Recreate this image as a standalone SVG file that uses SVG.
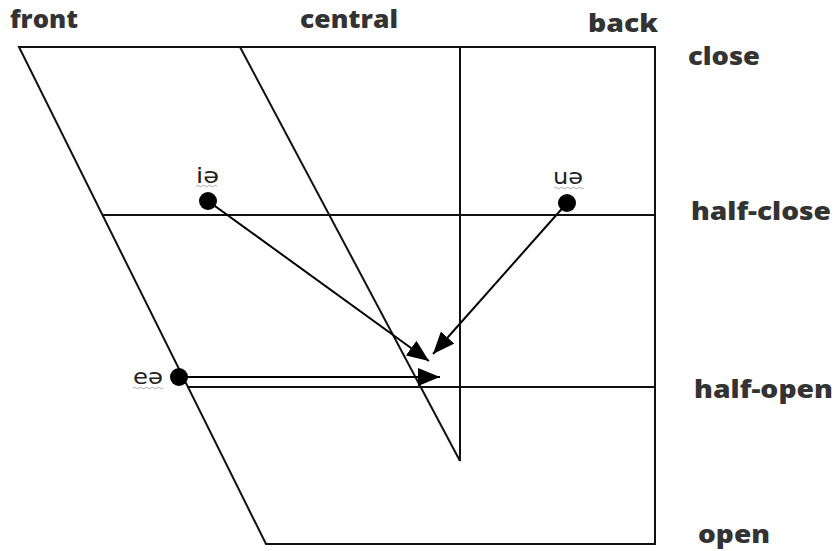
<svg xmlns="http://www.w3.org/2000/svg" width="837" height="551" viewBox="0 0 837 551">
<defs>
<style>
.ln{stroke:#111;stroke-width:2;fill:none}
.ar{stroke:#000;stroke-width:2;fill:none}
.lbl{font-family:"Open Sans","Liberation Sans",sans-serif;font-weight:800;font-size:24px;fill:#333}
.ipa{font-family:"DejaVu Sans","Liberation Sans",sans-serif;font-size:22px;fill:#222}
.sq{stroke:#aaa;stroke-width:1;fill:none}
</style>
<marker id="ahb" viewBox="0 0 22 18" refX="22" refY="9" markerWidth="22" markerHeight="18" orient="auto" markerUnits="userSpaceOnUse">
<path d="M0,0 L22,9 L0,18 Z" fill="#000"/>
</marker>
</defs>
<g id="chart">
<path class="ln" d="M19,47 L655,47 L655,544 L266,544 Z"/>
<line class="ln" x1="240" y1="47" x2="460" y2="461"/>
<line class="ln" x1="460" y1="47" x2="460" y2="461"/>
<line class="ln" x1="103" y1="215" x2="655" y2="215"/>
<line class="ln" x1="187" y1="387" x2="655" y2="387"/>
</g>
<g id="labels">
<text class="lbl" x="10" y="28" textLength="68" lengthAdjust="spacingAndGlyphs">front</text>
<text class="lbl" x="300" y="28" textLength="98" lengthAdjust="spacingAndGlyphs">central</text>
<text class="lbl" x="588" y="32" textLength="70" lengthAdjust="spacingAndGlyphs">back</text>
<text class="lbl" x="688" y="65" textLength="72" lengthAdjust="spacingAndGlyphs">close</text>
<text class="lbl" x="691" y="220" textLength="140" lengthAdjust="spacingAndGlyphs">half-close</text>
<text class="lbl" x="694" y="398" textLength="139" lengthAdjust="spacingAndGlyphs">half-open</text>
<text class="lbl" x="698" y="543" textLength="72" lengthAdjust="spacingAndGlyphs">open</text>
</g>
<g id="node-ie">
<text class="ipa" x="196" y="183" textLength="23" lengthAdjust="spacingAndGlyphs">iə</text>
<path class="sq" d="M196,186 q1.5,-1.5 3,0 t3,0 t3,0 t3,0 t3,0 t3,0 t3,0"/>
<circle cx="208" cy="201" r="9" fill="#000"/>
</g>
<g id="node-ue">
<text class="ipa" x="553" y="184" textLength="30" lengthAdjust="spacingAndGlyphs">uə</text>
<path class="sq" d="M554,188 q1.5,-1.5 3,0 t3,0 t3,0 t3,0 t3,0 t3,0 t3,0 t3,0 t3,0 t3,0"/>
<circle cx="567" cy="203" r="9" fill="#000"/>
</g>
<g id="node-ee">
<text class="ipa" x="133" y="384" textLength="30" lengthAdjust="spacingAndGlyphs">eə</text>
<path class="sq" d="M133,388 q1.5,-1.5 3,0 t3,0 t3,0 t3,0 t3,0 t3,0 t3,0 t3,0 t3,0 t3,0"/>
<circle cx="179" cy="377" r="9" fill="#000"/>
</g>
<g id="connectors">
<line class="ar" x1="208" y1="201" x2="429" y2="361" marker-end="url(#ahb)"/>
<line class="ar" x1="567" y1="203" x2="433" y2="354" marker-end="url(#ahb)"/>
<line class="ar" x1="179" y1="377" x2="440" y2="377" marker-end="url(#ahb)"/>
</g>
</svg>
